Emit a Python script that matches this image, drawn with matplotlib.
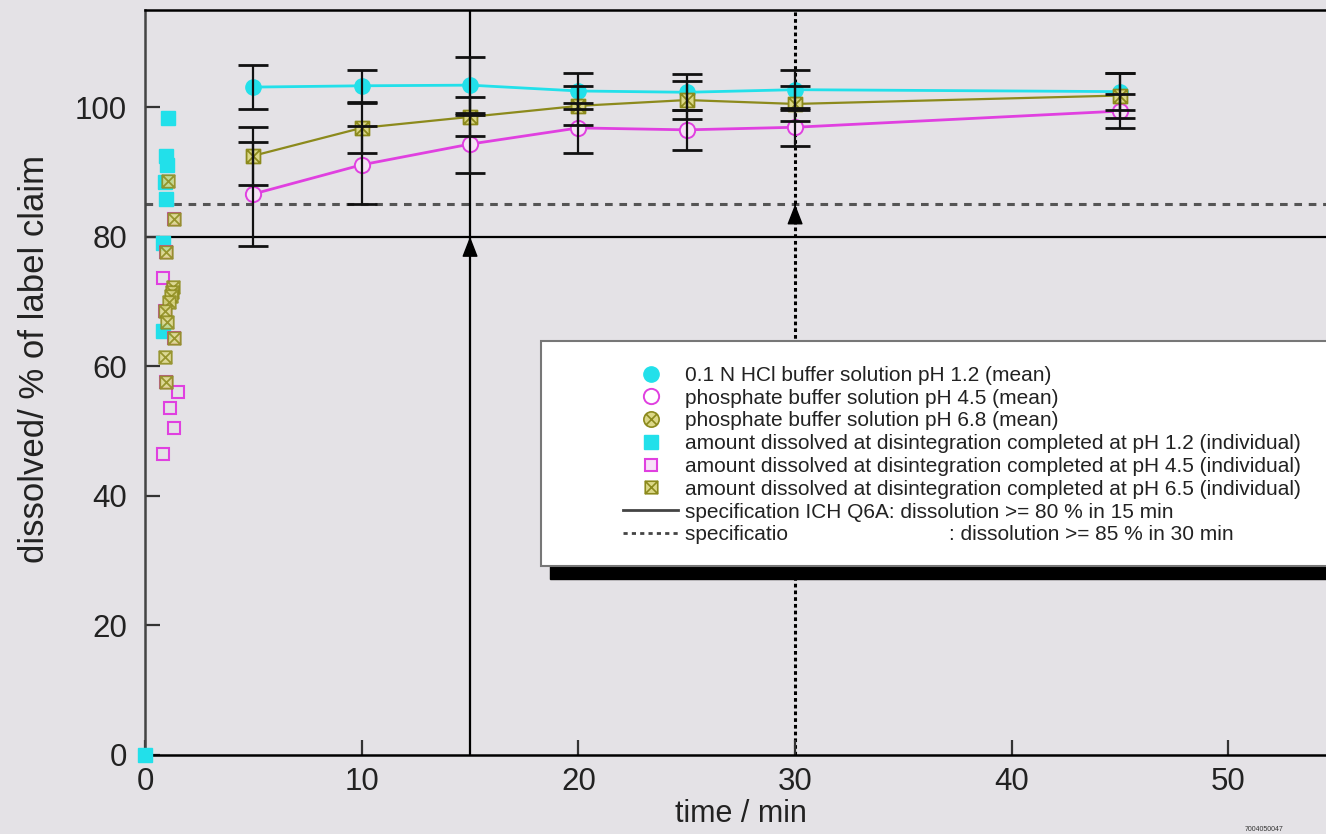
import numpy as np
import matplotlib
matplotlib.use("Agg")
import matplotlib.pyplot as plt
from matplotlib.path import Path
from matplotlib.patches import Rectangle
from matplotlib.lines import Line2D

plt.rcParams['font.family'] = ['Liberation Sans', 'DejaVu Sans']

# mean curves (time in min, % of label claim)
t_mean = [5, 10, 15, 20, 25, 30, 45]
hcl_mean = [103.1, 103.3, 103.4, 102.5, 102.3, 102.7, 102.4]
hcl_sd = [3.4, 2.5, 4.3, 2.8, 2.8, 3.1, 2.8]
ph45_mean = [86.6, 91.1, 94.3, 96.8, 96.5, 96.9, 99.4]
ph45_sd = [8.0, 6.0, 4.5, 3.9, 3.1, 2.9, 2.6]
ph68_mean = [92.5, 96.8, 98.5, 100.2, 101.1, 100.5, 101.8]
ph68_sd = [4.5, 3.9, 3.0, 3.0, 2.9, 2.7, 3.5]

# individual amounts at disintegration
ind12_t = [0.0, 1.05, 0.95, 1.0, 0.9, 0.95, 0.85, 0.85]
ind12 = [0.0, 98.4, 92.5, 91.0, 88.5, 85.8, 79.0, 65.5]
ind45_t = [0.85, 0.95, 1.35, 1.5, 1.15, 1.35, 0.85, 0.95, 1.35, 0.9]
ind45 = [73.7, 77.6, 82.7, 56.0, 53.6, 50.5, 46.4, 57.6, 64.4, 68.5]
ind65_t = [1.05, 1.35, 0.95, 1.3, 1.25, 1.2, 1.1, 0.9, 1.0, 1.35, 0.9, 0.95]
ind65 = [88.6, 82.7, 77.6, 72.3, 71.5, 70.8, 70.0, 68.5, 66.8, 64.4, 61.5, 57.6]

spec1_t, spec1_v = 15, 80
spec2_t, spec2_v = 30, 85

labels = [
    "0.1 N HCl buffer solution pH 1.2 (mean)",
    "phosphate buffer solution pH 4.5 (mean)",
    "phosphate buffer solution pH 6.8 (mean)",
    "amount dissolved at disintegration completed at pH 1.2 (individual)",
    "amount dissolved at disintegration completed at pH 4.5 (individual)",
    "amount dissolved at disintegration completed at pH 6.5 (individual)",
    "specification ICH Q6A: dissolution >= 80 % in 15 min",
    "specificatio" + " " * 28 + ": dissolution >= 85 % in 30 min",
]

CYAN = '#22e0ea'
MAG = '#e040e0'
OLIVE = '#8c8a1c'
KHAKI = '#dcd888'
BG = '#e4e2e6'

# square / circle with a cross inside
d = 0.7071
cross = Path([(-d, -d), (d, d), (-d, d), (d, -d)],
             [Path.MOVETO, Path.LINETO, Path.MOVETO, Path.LINETO])
sq = Path([(-1, -1), (1, -1), (1, 1), (-1, 1), (-1, -1)],
          [Path.MOVETO, Path.LINETO, Path.LINETO, Path.LINETO, Path.CLOSEPOLY])
sq_cross = Path.make_compound_path(sq, Path([(-1, -1), (1, 1), (-1, 1), (1, -1)],
                                            [Path.MOVETO, Path.LINETO, Path.MOVETO, Path.LINETO]))
circ_cross = Path.make_compound_path(Path.unit_circle(), cross)

fig = plt.figure(figsize=(13.26, 8.34), dpi=100, facecolor=BG)
ax = fig.add_axes([145 / 1326, 1 - 755 / 834, 1 - 145 / 1326, (755 - 10) / 834])
ax.set_facecolor(BG)

# specification lines
ax.axhline(spec1_v, color='black', lw=1.6, zorder=1)
ax.axhline(spec2_v, color='#555555', lw=2.2, ls=(0, (2.5, 2.2)), zorder=1)
ax.axvline(spec1_t, color='black', lw=1.6, zorder=1)
ax.axvline(spec2_t, color='black', lw=2.2, ls=(0, (1.2, 1.0)), zorder=1)
for xt, yv in [(spec1_t, spec1_v), (spec2_t, spec2_v)]:
    ax.annotate('', xy=(xt, yv), xytext=(xt, yv - 0.1),
                arrowprops=dict(arrowstyle='-|>,head_length=0.9,head_width=0.35',
                                color='black', lw=1, shrinkA=0, shrinkB=0,
                                mutation_scale=14), zorder=2)

# individual points
ax.plot(ind12_t, ind12, 's', ms=10, color=CYAN, mec=CYAN, clip_on=False, zorder=3)
ax.plot(ind45_t, ind45, 's', ms=9, mfc='none', mec=MAG, mew=1.5, zorder=4)
ax.plot(ind65_t, ind65, marker=sq_cross, ls='none', ms=9, mfc=KHAKI, mec=OLIVE,
        mew=1.3, alpha=0.85, zorder=5)

# mean curves
ax.plot(t_mean, hcl_mean, '-o', color=CYAN, lw=2, ms=11, mec=CYAN, zorder=5)
ax.plot(t_mean, ph68_mean, '-', color=OLIVE, lw=1.6, zorder=5)
ax.plot(t_mean, ph68_mean, marker=sq_cross, ls='none', ms=10, mfc=KHAKI, mec=OLIVE,
        mew=1.3, zorder=6)
ax.plot(t_mean, ph45_mean, '-o', color=MAG, lw=2, ms=11, mfc='#f4e4f4', mec=MAG,
        mew=1.4, zorder=5)
for m, s in [(hcl_mean, hcl_sd), (ph68_mean, ph68_sd), (ph45_mean, ph45_sd)]:
    ax.errorbar(t_mean, m, yerr=s, fmt='none', ecolor='#111111', elinewidth=1.6,
                capsize=11, capthick=2, zorder=7)

ax.set_xlim(0, 54.5)
ax.set_ylim(0, 115)
ax.set_xticks([0, 10, 20, 30, 40, 50])
ax.set_yticks([0, 20, 40, 60, 80, 100])
ax.tick_params(direction='in', length=11, width=1.6, labelsize=22.5,
               colors='#333333', labelcolor='#222222')
ax.tick_params(axis='y', pad=13)
ax.tick_params(axis='x', pad=9)
for side in ['left', 'bottom', 'top']:
    ax.spines[side].set_linewidth(1.8)
ax.spines['left'].set_color('#444444')
ax.spines['right'].set_visible(False)

ax.set_xlabel('time / min', fontsize=22, color='#222222')
ax.set_ylabel('dissolved/ % of label claim', fontsize=25, color='#222222')
ax.xaxis.set_label_coords(0.505, -0.059)
ax.yaxis.set_label_coords(-0.080, 0.532)

# legend box with heavy shadow
W, H = 1326.0, 834.0
fig.patches.append(Rectangle((550 / W, 1 - 579 / H), 800 / W, 225 / H,
                             transform=fig.transFigure, facecolor='black',
                             edgecolor='black', zorder=2))
fig.patches.append(Rectangle((541 / W, 1 - 566 / H), 800 / W, 225 / H,
                             transform=fig.transFigure, facecolor='white',
                             edgecolor='#777777', lw=1.5, zorder=3))

handles = [
    Line2D([], [], ls='none', marker='o', ms=11, color=CYAN, mec=CYAN),
    Line2D([], [], ls='none', marker='o', ms=11, mfc='white', mec=MAG, mew=1.4),
    Line2D([], [], ls='none', marker=circ_cross, ms=11, mfc=KHAKI, mec=OLIVE, mew=1.2),
    Line2D([], [], ls='none', marker='s', ms=10, color=CYAN, mec=CYAN),
    Line2D([], [], ls='none', marker='s', ms=9, mfc='#f8e0f8', mec=MAG, mew=1.5),
    Line2D([], [], ls='none', marker=sq_cross, ms=9, mfc=KHAKI, mec=OLIVE, mew=1.2),
    Line2D([], [], color='#444444', lw=2),
    Line2D([], [], color='#444444', lw=2, ls=(0, (1.5, 1.5))),
]
fig.legend(handles, labels, loc='upper left', bbox_to_anchor=(623 / W, 1 - 366 / H),
           frameon=False, fontsize=15, handlelength=2.64, handletextpad=0.34,
           labelspacing=0.18, borderpad=0, borderaxespad=0, labelcolor='#222222')

fig.text(1245 / W, 1 - 831 / H, '7004050047', fontsize=5, color='#333333')

fig.savefig('out.png', dpi=100, facecolor=BG)
